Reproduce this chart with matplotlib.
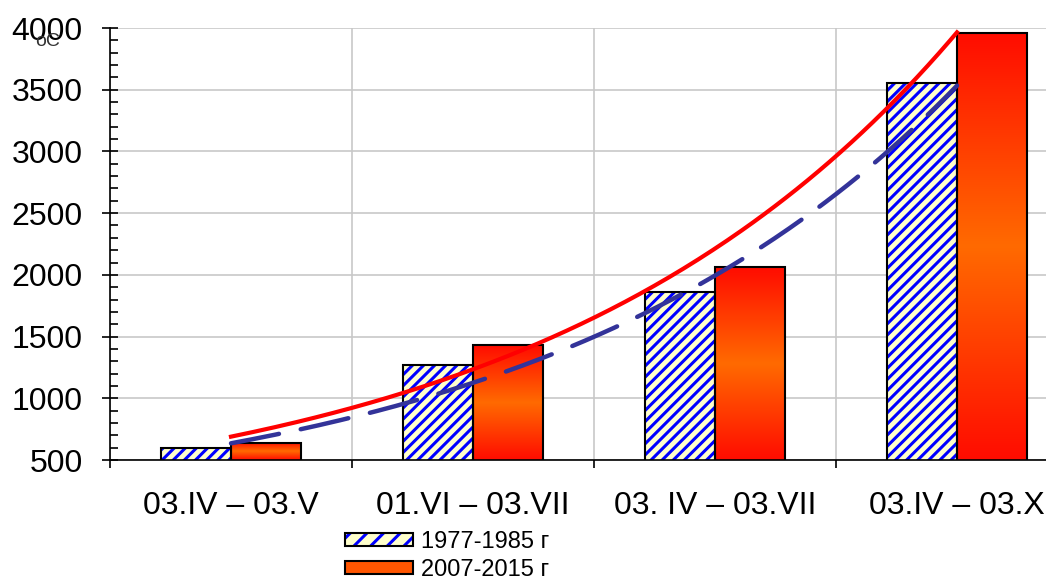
import numpy as np
import matplotlib.pyplot as plt
from matplotlib.colors import LinearSegmentedColormap
from matplotlib.patches import Patch
from matplotlib.legend_handler import HandlerTuple
from matplotlib.ticker import MultipleLocator

# sums of active temperatures, by period
periods = ['03.IV – 03.V', '01.VI – 03.VII', '03. IV – 03.VII', '03.IV – 03.X']
old_sums = [600, 1270, 1860, 3555]   # 1977-1985
new_sums = [640, 1430, 2060, 3960]   # 2007-2015
labels = ['1977-1985 г', '2007-2015 г']

plt.rcParams['font.family'] = ['Liberation Sans', 'DejaVu Sans']
plt.rcParams['hatch.linewidth'] = 2.2

fig = plt.figure(figsize=(10.46, 5.77), dpi=100)
ax = fig.add_axes([110/1046, 117/577, 968/1046, 432/577])

x = np.arange(len(periods))
w = 0.29
ymin, ymax = 500, 4000

# hatched bars (hatch drawn blue, outline drawn separately in black)
ax.bar(x - w/2, old_sums, w, color='#FFFFCC', edgecolor='#0000FF',
       hatch='///', lw=0, zorder=2)
ax.bar(x - w/2, old_sums, w, fill=False, edgecolor='black', lw=1.5, zorder=3)

# gradient bars: red - orange - red
cmap = LinearSegmentedColormap.from_list(
    'grad', [(0, '#FF0C00'), (0.5, '#FF6A00'), (1, '#FF0C00')])
grad = np.linspace(0, 1, 256).reshape(-1, 1)
bars = ax.bar(x + w/2, new_sums, w, facecolor='none', edgecolor='black',
              lw=1.5, zorder=3)
for b in bars:
    x0 = b.get_x()
    im = ax.imshow(grad, extent=[x0, x0 + b.get_width(), ymin, b.get_height()],
                   aspect='auto', cmap=cmap, zorder=2, origin='lower')
    im.set_clip_path(b)

# exponential trend lines (fitted to the bars, like the Excel trendline)
xs = np.linspace(0, 3, 200)
k1, c1 = np.polyfit(x, np.log(old_sums), 1)
k2, c2 = np.polyfit(x, np.log(new_sums), 1)
ax.plot(xs, np.exp(c2 + k2 * xs), color='#FF0000', lw=3, zorder=4)
ax.plot(xs, np.exp(c1 + k1 * xs), color='#333399', lw=3.2, zorder=4,
        dashes=(11, 5), dash_capstyle='round')

ax.set_xlim(-0.5, 3.5)
ax.set_ylim(ymin, ymax)
ax.set_yticks(range(500, 4001, 500))
ax.yaxis.set_minor_locator(MultipleLocator(100))
ax.set_xticks([-0.5, 0.5, 1.5, 2.5, 3.5])
ax.set_xticklabels([])
ax.set_xticks(x, periods, minor=True)

ax.set_axisbelow(True)
ax.grid(True, which='major', color='#C8C8C8', lw=1.2)

ax.tick_params(axis='y', which='major', direction='inout', length=11.5,
               width=1.2, labelsize=23, pad=14)
ax.tick_params(axis='y', which='minor', direction='in', length=6, width=1.2)
ax.tick_params(axis='x', which='major', direction='out', length=6, width=1.2)
ax.tick_params(axis='x', which='minor', length=0, labelsize=23, pad=22)

for s in ['top', 'right']:
    ax.spines[s].set_visible(False)
for s in ['left', 'bottom']:
    ax.spines[s].set_linewidth(1.2)

fig.text(35/1046, 1 - 42/577, 'oC', fontsize=14, va='center', color='#333333')

h_old = (Patch(facecolor='#FFFFCC', edgecolor='#0000FF', hatch='//', lw=0),
         Patch(fill=False, edgecolor='black', lw=1.5))
h_new = Patch(facecolor='#FF5500', edgecolor='black', lw=1.5)
fig.legend([h_old, h_new], labels, handler_map={tuple: HandlerTuple(ndivide=1)},
           loc='upper left', bbox_to_anchor=(345/1046, 1 - 531/577),
           frameon=False, fontsize=17, handlelength=2.9, handleheight=0.5,
           handletextpad=0.33, labelspacing=0.24, borderpad=0, borderaxespad=0)

fig.savefig('out.png', dpi=100)
